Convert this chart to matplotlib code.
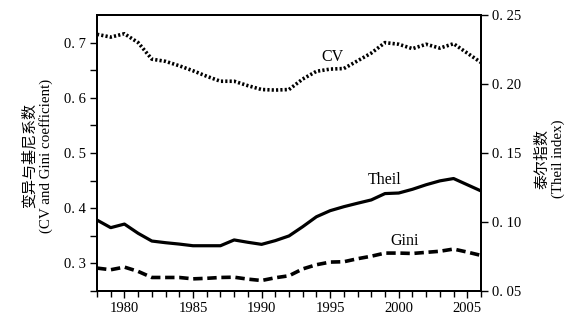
import matplotlib
matplotlib.use("Agg")
import matplotlib.pyplot as plt
from matplotlib.ticker import MultipleLocator, FixedLocator

years = list(range(1978, 2007))
cv = [0.715, 0.710, 0.716, 0.700, 0.670, 0.666, 0.658, 0.649, 0.639, 0.630,
      0.630, 0.622, 0.615, 0.614, 0.615, 0.634, 0.648, 0.652, 0.653, 0.667,
      0.681, 0.700, 0.697, 0.689, 0.697, 0.690, 0.698, 0.681, 0.664]
gini = [0.2915, 0.2885, 0.2933, 0.2855, 0.2745, 0.2745, 0.2745, 0.272, 0.273, 0.2745,
        0.275, 0.2715, 0.269, 0.274, 0.2776, 0.290, 0.2976, 0.3024, 0.303, 0.3085,
        0.313, 0.3187, 0.3187, 0.318, 0.320, 0.322, 0.326, 0.3205, 0.3145]
theil = [0.1014, 0.0959, 0.0985, 0.0918, 0.0862, 0.085, 0.084, 0.0828, 0.0828, 0.0828,
         0.087, 0.0853, 0.0838, 0.0865, 0.0899, 0.0966, 0.1038, 0.1082, 0.1111, 0.1136,
         0.116, 0.1206, 0.121, 0.1237, 0.127, 0.1298, 0.1315, 0.127, 0.1225]

left_ticks = [0.3, 0.4, 0.5, 0.6, 0.7]
left_ticklabels = ["0. 3", "0. 4", "0. 5", "0. 6", "0. 7"]
right_ticks = [0.05, 0.10, 0.15, 0.20, 0.25]
right_ticklabels = ["0. 05", "0. 10", "0. 15", "0. 20", "0. 25"]
x_ticks = [1980, 1985, 1990, 1995, 2000, 2005]
x_ticklabels = ["1980", "1985", "1990", "1995", "2000", "2005"]

left_label = "变异与基尼系数\n(CV and Gini coefficient)"
right_label = "泰尔指数\n(Theil index)"
series_names = ["CV", "Theil", "Gini"]

serif = ["Liberation Serif", "Noto Sans CJK SC", "DejaVu Serif"]
plt.rcParams["font.family"] = serif

fig = plt.figure(figsize=(5.8, 3.23), dpi=100)
ax = fig.add_axes([97/580, 1 - 291/323, (481-97)/580, (291-15)/323])
ax2 = ax.twinx()

ax.plot(years, cv, color="black", lw=2.6, linestyle=(0, (0.6, 0.6)), solid_capstyle="butt")
ax.plot(years, gini, color="black", lw=2.6, linestyle=(0, (2.6, 1.3)))
ax2.plot(years, theil, color="black", lw=2.3, linestyle="-")

ax.set_xlim(1978, 2006)
ax.set_ylim(0.25, 0.75)
ax2.set_ylim(0.05, 0.25)

ax.set_xticks(x_ticks)
ax.set_xticklabels(x_ticklabels)
ax.xaxis.set_minor_locator(MultipleLocator(1))
ax.set_yticks(left_ticks)
ax.set_yticklabels(left_ticklabels)
ax.yaxis.set_minor_locator(FixedLocator([0.25, 0.35, 0.45, 0.55, 0.65]))
ax2.set_yticks(right_ticks)
ax2.set_yticklabels(right_ticklabels)

for a in (ax, ax2):
    for s in a.spines.values():
        s.set_linewidth(1.4)
ax.tick_params(axis="both", which="both", direction="out", width=1.0, labelsize=10.5, colors="black")
ax.tick_params(axis="x", which="major", length=5, pad=3)
ax.tick_params(axis="x", which="minor", length=4)
ax.tick_params(axis="y", which="both", length=5, pad=3)
ax2.tick_params(axis="y", which="major", direction="out", length=5, width=1.0, labelsize=10.5, pad=3)

ax.set_ylabel(left_label, fontsize=10.8, linespacing=1.2)
ax.yaxis.set_label_coords(-0.115, 0.49)
ax2.set_ylabel(right_label, fontsize=10.8, linespacing=1.2, rotation=90)
ax2.yaxis.set_label_coords(1.14, 0.48)

ax.text(1995.2, 0.6745, series_names[0], fontsize=11.5, ha="center", va="center")
ax2.text(1999.0, 0.1304, series_names[1], fontsize=11.5, ha="center", va="center")
ax.text(2000.4, 0.340, series_names[2], fontsize=11.5, ha="center", va="center")

fig.savefig("out.png", dpi=100)
